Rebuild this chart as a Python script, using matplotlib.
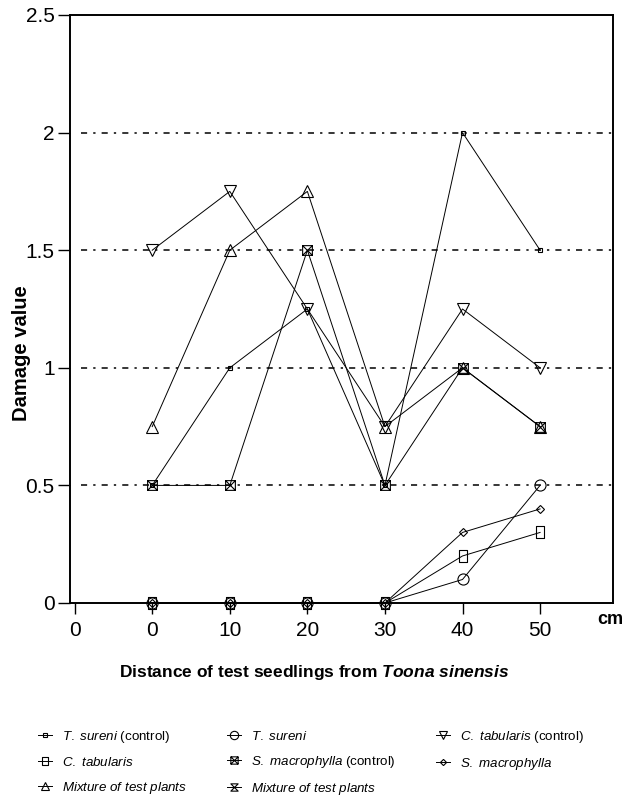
import numpy as np
import matplotlib
matplotlib.use('Agg')
import matplotlib.pyplot as plt
from matplotlib.path import Path

plt.rcParams['font.family'] = ['Liberation Sans', 'DejaVu Sans']
plt.rcParams['mathtext.fontset'] = 'custom'
plt.rcParams['mathtext.rm'] = 'Liberation Sans'
plt.rcParams['mathtext.it'] = 'Liberation Sans:italic'
plt.rcParams['mathtext.bf'] = 'Liberation Sans:bold:italic'

# ── data ─────────────────────────────────────────────
distance = np.array([0, 10, 20, 30, 40, 50])
tick_labels = ['0', '0', '10', '20', '30', '40', '50']
y_ticks = [0, 0.5, 1, 1.5, 2, 2.5]
y_tick_labels = ['0', '0.5', '1', '1.5', '2', '2.5']
grid_levels = [0.5, 1, 1.5, 2]

t_sureni_ctrl = [0.5, 1.0, 1.25, 0.5, 2.0, 1.5]
t_sureni = [0, 0, 0, 0, 0.1, 0.5]
c_tab_ctrl = [1.5, 1.75, 1.25, 0.75, 1.25, 1.0]
c_tab = [0, 0, 0, 0, 0.2, 0.3]
s_mac_ctrl = [0.5, 0.5, 1.5, 0.5, 1.0, 0.75]
s_mac = [0, 0, 0, 0, 0.3, 0.4]
mix_ctrl = [0.75, 1.5, 1.75, 0.75, 1.0, 0.75]
mix = [np.nan] * 6   # not distinguishable in the plot, legend entry only

# ── custom markers ───────────────────────────────────
M, L, C = Path.MOVETO, Path.LINETO, Path.CLOSEPOLY
rect_mk = Path([(-0.35, -0.5), (0.35, -0.5), (0.35, 0.5), (-0.35, 0.5), (-0.35, -0.5)],
               [M, L, L, L, C])
boxx_mk = Path([(-0.5, -0.5), (0.5, -0.5), (0.5, 0.5), (-0.5, 0.5), (-0.5, -0.5),
                (-0.5, -0.5), (0.5, 0.5), (-0.5, 0.5), (0.5, -0.5)],
               [M, L, L, L, C, M, L, M, L])
hour_mk = Path([(-0.5, 0.5), (0.5, 0.5), (-0.5, -0.5), (0.5, -0.5), (-0.5, 0.5)],
               [M, L, L, L, C])

xpos = distance / 10 + 1

fig = plt.figure(figsize=(6.26, 7.99), dpi=100)
ax = fig.add_axes([70 / 626, 1 - 603 / 799, 543 / 626, 588 / 799])

series = [
    (t_sureni_ctrl, 's', 3, r'$\mathit{T.\ sureni}$ (control)'),
    (c_tab, rect_mk, 8, r'$\mathit{C.\ tabularis}$'),
    (mix_ctrl, '^', 8.5, r'$\mathit{Mixture\ of\ test\ plants}$'),
    (t_sureni, 'o', 8, r'$\mathit{T.\ sureni}$'),
    (s_mac_ctrl, boxx_mk, 7, r'$\mathit{S.\ macrophylla}$ (control)'),
    (mix, hour_mk, 7, r'$\mathit{Mixture\ of\ test\ plants}$'),
    (c_tab_ctrl, 'v', 8.5, r'$\mathit{C.\ tabularis}$ (control)'),
    (s_mac, 'D', 4.2, r'$\mathit{S.\ macrophylla}$'),
]

handles = []
for vals, mk, ms, lab in series:
    ln, = ax.plot(xpos, vals, color='black', lw=0.7, marker=mk, ms=ms,
                  mfc='none', mec='black', mew=0.8, clip_on=False, zorder=3,
                  label=lab)
    handles.append(ln)

for g in grid_levels:
    ax.axhline(g, xmin=0.02, xmax=1, color='black', lw=1.1,
               ls=(0, (4, 4, 1.5, 4)), zorder=1)

ax.set_xlim(-0.06, 6.94)
ax.set_ylim(0, 2.5)
ax.set_xticks(range(len(tick_labels)))
ax.set_xticklabels(tick_labels)
ax.set_yticks(y_ticks)
ax.set_yticklabels(y_tick_labels)
ax.tick_params(axis='both', direction='out', labelsize=15, width=1, color='black')
ax.tick_params(axis='y', length=9, pad=2)
ax.tick_params(axis='x', length=8, pad=5)
for sp in ax.spines.values():
    sp.set_linewidth(1.4)

fig.text(22 / 626, 1 - 353 / 799, 'Damage value', rotation=90, ha='center',
         va='center', fontsize=14.5, fontweight='bold')
fig.text(610 / 626, 1 - 619 / 799, 'cm', ha='center', va='center',
         fontsize=13, fontweight='bold')
fig.text(314 / 626, 1 - 673 / 799,
         r'Distance of test seedlings from $\mathbf{Toona\ sinensis}$',
         ha='center', va='center', fontsize=12.5, fontweight='bold')

leg = fig.legend(handles=handles, ncol=3, loc='upper left',
                 bbox_to_anchor=(31 / 626, 1 - 722 / 799), frameon=False,
                 fontsize=9.6, handlelength=1.1, handletextpad=0.7,
                 columnspacing=3.0, labelspacing=0.82, borderpad=0,
                 markerscale=0.75)

fig.savefig('out.png', dpi=100)
